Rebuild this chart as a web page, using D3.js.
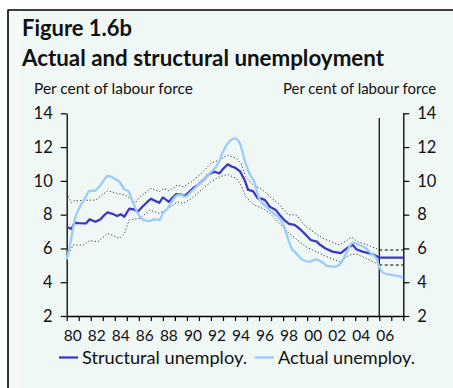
<!DOCTYPE html>
<html>
<head>
<meta charset="utf-8">
<script src="https://cdn.jsdelivr.net/npm/d3@7"></script>
<style>
  html, body { margin: 0; padding: 0; background: #ffffff; }
  svg { display: block; }
  text { font-family: Lato, "Open Sans", sans-serif; fill: #111; }
</style>
</head>
<body>
<svg id="chart" width="453" height="388"></svg>
<script>
// Unemployment, per cent of labour force: [year, value]
const structural = [
  [1980.0,7.28],[1980.4,7.15],[1980.65,7.52],[1981.0,7.50],[1981.6,7.48],[1981.9,7.72],
  [1982.4,7.58],[1982.8,7.72],[1983.1,7.95],[1983.4,8.13],[1983.8,8.05],[1984.2,7.92],
  [1984.5,8.02],[1984.8,7.88],[1985.2,8.35],[1985.6,8.31],[1985.9,8.17],[1986.3,8.47],
  [1986.7,8.75],[1987.0,8.94],[1987.4,8.80],[1987.7,8.70],[1988.0,9.02],[1988.5,8.76],
  [1988.8,9.00],[1989.1,9.22],[1989.5,9.20],[1989.8,9.10],[1990.2,9.35],[1990.5,9.56],
  [1990.9,9.75],[1991.2,9.95],[1991.5,10.15],[1991.8,10.38],[1992.3,10.54],[1992.7,10.44],
  [1993.0,10.70],[1993.4,10.98],[1993.7,10.85],[1994.0,10.78],[1994.4,10.58],[1994.8,10.05],
  [1995.1,9.46],[1995.5,9.40],[1995.9,8.96],[1996.2,8.95],[1996.5,8.86],[1996.9,8.47],
  [1997.4,8.27],[1997.7,8.00],[1998.1,7.68],[1998.5,7.45],[1998.96,7.40],[1999.4,7.15],
  [1999.9,6.80],[2000.3,6.50],[2000.8,6.40],[2001.1,6.20],[2001.5,6.01],[2002.1,5.81],
  [2002.8,5.72],[2003.4,6.06],[2003.8,6.20],[2004.1,5.95],[2004.6,5.81],[2005.2,5.71],
  [2005.6,5.61],[2006.0,5.45],[2008.0,5.45]
];

const actual = [
  [1980.0,5.35],[1980.3,6.30],[1980.7,7.78],[1981.1,8.47],[1981.5,8.95],[1981.9,9.40],
  [1982.3,9.41],[1982.7,9.65],[1983.1,10.05],[1983.4,10.30],[1983.7,10.24],[1984.0,10.12],
  [1984.4,9.95],[1984.8,9.50],[1985.1,9.41],[1985.5,8.76],[1985.9,8.08],[1986.3,7.72],
  [1986.9,7.62],[1987.3,7.72],[1987.7,7.68],[1988.0,8.08],[1988.4,8.37],[1988.8,8.85],
  [1989.2,9.16],[1989.5,9.20],[1989.8,9.06],[1990.5,9.46],[1991.2,9.95],[1991.9,10.44],
  [1992.6,11.04],[1993.0,11.72],[1993.4,12.22],[1993.8,12.48],[1994.0,12.51],[1994.4,12.22],
  [1994.8,11.23],[1995.2,10.44],[1995.6,9.95],[1996.0,8.96],[1996.6,8.47],[1997.2,8.08],
  [1997.7,7.78],[1998.1,7.28],[1998.4,6.60],[1998.7,6.01],[1999.1,5.71],[1999.65,5.31],
  [2000.2,5.21],[2000.75,5.35],[2001.2,5.21],[2001.7,4.96],[2002.3,4.92],[2002.8,5.12],
  [2003.25,5.71],[2003.8,6.34],[2004.35,6.20],[2004.9,6.01],[2005.3,5.71],[2005.75,5.41],
  [2006.0,4.92],[2006.4,4.53],[2007.1,4.43],[2008.0,4.29]
];

// Uncertainty band around the structural estimate
const bandUpper = [
  [1980.0,9.26],[1980.4,8.70],[1980.6,8.82],[1981.9,8.86],[1982.4,8.86],[1983.4,9.41],
  [1984.2,9.26],[1984.9,9.16],[1985.7,8.70],[1986.1,9.06],[1987.0,9.56],[1987.7,9.36],
  [1988.1,9.56],[1988.5,9.41],[1989.2,9.75],[1989.7,9.65],[1990.4,9.95],[1991.2,10.44],
  [1992.0,11.04],[1992.7,11.23],[1993.4,11.53],[1994.1,11.33],[1994.5,11.04],[1994.9,10.24],
  [1995.5,9.75],[1996.3,9.46],[1996.9,9.06],[1997.6,8.67],[1998.4,8.00],[1999.1,7.98],
  [1999.9,7.28],[2001.3,6.60],[2002.7,6.20],[2003.7,6.66],[2004.2,6.40],[2005.05,6.20],
  [2006.0,5.91],[2008.0,5.91]
];

const bandLower = [
  [1980.0,5.51],[1980.55,6.20],[1981.4,6.20],[1981.9,6.46],[1982.6,6.40],[1983.4,6.89],
  [1984.4,6.60],[1984.8,6.89],[1985.2,7.68],[1986.1,7.78],[1986.9,8.27],[1987.7,8.08],
  [1988.5,8.40],[1989.2,8.75],[1989.7,8.67],[1990.4,8.96],[1991.2,9.46],[1992.0,9.95],
  [1992.7,10.24],[1993.4,10.38],[1994.1,10.15],[1994.5,9.75],[1994.9,9.06],[1995.6,8.57],
  [1996.3,8.37],[1996.9,8.08],[1997.7,7.50],[1998.5,6.89],[1999.9,6.10],[2001.3,5.61],
  [2002.7,5.21],[2003.5,5.61],[2004.1,5.67],[2005.2,5.31],[2006.0,5.02],[2008.0,5.02]
];

const forecastStart = 2006;
const yTicks = [2, 4, 6, 8, 10, 12, 14];
const xLabelYears = [1980,1982,1984,1986,1988,1990,1992,1994,1996,1998,2000,2002,2004,2006];
const xLabels = ["80","82","84","86","88","90","92","94","96","98","00","02","04","06"];
const seriesNames = ["Structural unemploy.", "Actual unemploy."];

const colors = { structural: "#3b38c8", actual: "#9acbff", band: "#444" };
const fontFamily = "Lato, 'Open Sans', sans-serif";

const svg = d3.select("#chart");

// Panel background and frame
svg.append("rect").attr("x", 8).attr("y", 10).attr("width", 445).attr("height", 378).attr("fill", "#f0f8f5");
svg.append("rect").attr("x", 9).attr("y", 11).attr("width", 13).attr("height", 377).attr("fill", "#f5faf8");
svg.append("line").attr("x1", 8).attr("x2", 8).attr("y1", 9.5).attr("y2", 388).attr("stroke", "#000").attr("stroke-width", 1.6);
svg.append("line").attr("x1", 8).attr("x2", 453).attr("y1", 10).attr("y2", 10).attr("stroke", "#000").attr("stroke-width", 1.6);

// Scale text horizontally to a target width by adjusting font size
function fitText(sel, width) {
  const node = sel.node();
  const fs = parseFloat(sel.attr("font-size"));
  const w = node.getComputedTextLength();
  if (w > 0) sel.attr("font-size", (fs * width / w).toFixed(2));
  return sel;
}

fitText(svg.append("text").attr("x", 22).attr("y", 36).attr("font-size", 21).attr("font-weight", 700)
  .text("Figure 1.6b"), 110);
fitText(svg.append("text").attr("x", 22).attr("y", 65.5).attr("font-size", 21).attr("font-weight", 700)
  .text("Actual and structural unemployment"), 362);
fitText(svg.append("text").attr("x", 34).attr("y", 94).attr("font-size", 14)
  .text("Per cent of labour force"), 159);
fitText(svg.append("text").attr("x", 283).attr("y", 94).attr("font-size", 14)
  .text("Per cent of labour force"), 153);

const x = d3.scaleLinear().domain([1980, 2008]).range([66.7, 403.3]);
const y = d3.scaleLinear().domain([2, 14]).range([316, 113.3]);

// Axes
const axisLeft = d3.axisLeft(y).tickValues(yTicks).tickSize(6).tickPadding(8).tickSizeOuter(0).tickFormat(d3.format("d"));
const axisRight = d3.axisRight(y).tickValues(yTicks).tickSize(6).tickPadding(8).tickSizeOuter(0).tickFormat(d3.format("d"));
const axisBottom = d3.axisBottom(x).tickValues(d3.range(1980, 2009)).tickSize(5).tickSizeOuter(0).tickFormat("");

function styleAxis(g) {
  g.select(".domain").attr("stroke", "#000").attr("stroke-width", 1.3);
  g.selectAll(".tick line").attr("stroke", "#000").attr("stroke-width", 1.2);
  g.selectAll(".tick text").attr("font-size", 16.5).attr("font-family", fontFamily).attr("fill", "#111");
}

svg.append("g").attr("transform", `translate(${x(1980)},0)`).call(axisLeft).call(styleAxis);
svg.append("g").attr("transform", `translate(${x(2008)},0)`).call(axisRight).call(styleAxis);
svg.append("g").attr("transform", `translate(0,${y(2)})`).call(axisBottom).call(styleAxis);

// Year labels sit between ticks
svg.append("g").selectAll("text").data(xLabelYears).join("text")
  .attr("x", d => x(d + 0.5)).attr("y", 340.5).attr("text-anchor", "middle")
  .attr("font-size", 15.5).text((d, i) => xLabels[i]);

// Forecast divider
svg.append("line").attr("x1", x(forecastStart)).attr("x2", x(forecastStart))
  .attr("y1", 118).attr("y2", y(2)).attr("stroke", "#000").attr("stroke-width", 1.2);

const line = d3.line().x(d => x(d[0])).y(d => y(d[1]));
const smooth = d3.line().x(d => x(d[0])).y(d => y(d[1])).curve(d3.curveMonotoneX);

// Band: dotted history, dashed forecast
[bandUpper, bandLower].forEach(b => {
  svg.append("path").datum(b.filter(d => d[0] <= forecastStart)).attr("d", line)
    .attr("fill", "none").attr("stroke", colors.band).attr("stroke-width", 1).attr("stroke-dasharray", "1.3,2");
  svg.append("path").datum(b.filter(d => d[0] >= forecastStart)).attr("d", line)
    .attr("fill", "none").attr("stroke", "#000").attr("stroke-width", 1.1).attr("stroke-dasharray", "3,2.5");
});

svg.append("path").datum(structural).attr("d", line)
  .attr("fill", "none").attr("stroke", colors.structural).attr("stroke-width", 2.3).attr("stroke-linejoin", "round");
svg.append("path").datum(actual).attr("d", smooth)
  .attr("fill", "none").attr("stroke", colors.actual).attr("stroke-width", 2.3).attr("stroke-linejoin", "round");

// Legend
const legend = [
  { name: seriesNames[0], color: colors.structural, x: 59, w: 165 },
  { name: seriesNames[1], color: colors.actual, x: 255, w: 137 }
];
legend.forEach(l => {
  svg.append("line").attr("x1", l.x).attr("x2", l.x + 19).attr("y1", 357.5).attr("y2", 357.5)
    .attr("stroke", l.color).attr("stroke-width", 2.3);
  fitText(svg.append("text").attr("x", l.x + 23).attr("y", 364).attr("font-size", 16).text(l.name), l.w);
});
</script>
</body>
</html>
